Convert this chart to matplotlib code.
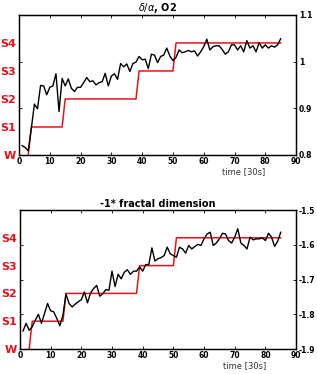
import matplotlib.pyplot as plt
import numpy as np

# time axis (30 s epochs)
t = np.arange(1, 86)
t_stage = np.arange(3, 86)

# sleep stage per epoch: 0=W, 1=S1 ... 4=S4
stage = [0] + [1] * 11 + [2] * 24 + [3] * 12 + [4] * 35

stage_labels = ['W', 'S1', 'S2', 'S3', 'S4']

# delta/alpha, O2
delta_alpha = [0.820, 0.816, 0.809, 0.857, 0.909, 0.899, 0.949, 0.948, 0.929, 0.945,
               0.948, 0.974, 0.893, 0.964, 0.948, 0.963, 0.943, 0.936, 0.945, 0.945,
               0.955, 0.966, 0.957, 0.959, 0.950, 0.955, 0.957, 0.975, 0.948, 0.969,
               0.974, 0.962, 0.996, 0.989, 0.995, 0.979, 0.996, 0.999, 1.011, 1.004,
               1.005, 0.985, 1.016, 1.014, 0.998, 1.011, 1.014, 1.029, 1.012, 1.002,
               1.009, 1.025, 1.019, 1.021, 1.024, 1.021, 1.023, 1.012, 1.021, 1.032,
               1.048, 1.025, 1.032, 1.034, 1.034, 1.026, 1.016, 1.021, 1.036, 1.036,
               1.025, 1.034, 1.021, 1.045, 1.029, 1.034, 1.021, 1.041, 1.029, 1.036,
               1.029, 1.034, 1.031, 1.036, 1.049]

# -1 * fractal dimension
fractal = [-1.848, -1.826, -1.846, -1.836, -1.817, -1.800, -1.826, -1.798, -1.769, -1.790,
           -1.793, -1.812, -1.833, -1.803, -1.742, -1.769, -1.779, -1.771, -1.764, -1.758,
           -1.736, -1.767, -1.739, -1.726, -1.717, -1.748, -1.741, -1.729, -1.731, -1.676,
           -1.720, -1.685, -1.698, -1.679, -1.672, -1.685, -1.676, -1.676, -1.664, -1.676,
           -1.657, -1.657, -1.609, -1.647, -1.640, -1.637, -1.631, -1.607, -1.626, -1.631,
           -1.636, -1.607, -1.612, -1.624, -1.602, -1.612, -1.605, -1.599, -1.602, -1.583,
           -1.569, -1.564, -1.602, -1.595, -1.583, -1.567, -1.569, -1.588, -1.595, -1.578,
           -1.554, -1.595, -1.602, -1.612, -1.578, -1.586, -1.583, -1.583, -1.580, -1.588,
           -1.567, -1.578, -1.605, -1.590, -1.564]

panels = [
    (r'$\delta/\alpha$, O2', delta_alpha, (0.8, 1.1), [0.8, 0.9, 1.0, 1.1],
     [0.060, 0.5856, 0.874, 0.3744], 0.81, -0.118),
    ('-1* fractal dimension', fractal, (-1.9, -1.5), [-1.9, -1.8, -1.7, -1.6, -1.5],
     [0.063, 0.0668, 0.871, 0.3717], 0.815, -0.122),
]

fig = plt.figure(figsize=(3.17, 3.74), dpi=100)

for title, vals, ylim, yticks, pos, lx, ly in panels:
    ax = fig.add_axes(pos)
    ax.plot(t_stage, stage, color='#e8101a', lw=1.1)
    ax.set_xlim(0, 90)
    ax.set_ylim(0, 5)
    ax.set_xticks(range(0, 91, 10))
    ax.set_yticks(range(5))
    ax.set_yticklabels(stage_labels, color='#e8101a', fontsize=8, fontweight='bold')
    ax.tick_params(axis='y', length=0, pad=2)
    ax.tick_params(axis='x', direction='in', top=True, length=2.5, labelsize=5.5,
                   pad=1.5, width=0.6)
    for lab in ax.get_xticklabels():
        lab.set_fontweight('bold')
    for s in ax.spines.values():
        s.set_linewidth(1.0)

    ax2 = ax.twinx()
    ax2.plot(t, vals, color='black', lw=1.0)
    ax2.set_ylim(*ylim)
    ax2.set_yticks(yticks)
    ax2.set_yticklabels([f'{v:g}' for v in yticks], fontsize=5.5, fontweight='bold')
    ax2.yaxis.set_ticks_position('both')
    ax2.tick_params(axis='y', direction='in', length=2.5, pad=2, width=0.6,
                    labelleft=False, labelright=True)

    ax.set_title(title, fontsize=7, fontweight='bold', pad=2)
    ax.text(lx, ly, 'time [30s]', transform=ax.transAxes, ha='center', va='center',
            fontsize=6, color='#333333')

fig.savefig('out.png', dpi=100)
